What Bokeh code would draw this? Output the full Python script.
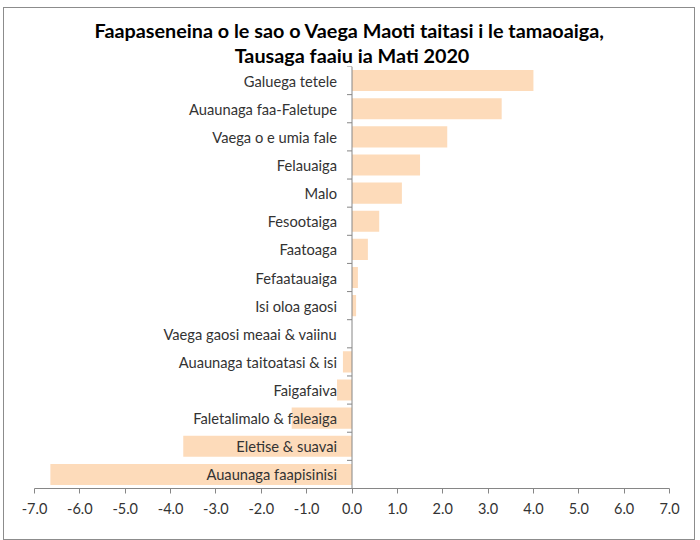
from bokeh.plotting import figure
from bokeh.models import ColumnDataSource, Range1d, Span, Title, FixedTicker, NumeralTickFormatter
from bokeh.embed import file_html
from bokeh.resources import INLINE
from bokeh.core.properties import value
import numpy as np

categories = [
    "Galuega tetele",
    "Auaunaga faa-Faletupe",
    "Vaega o e umia fale",
    "Felauaiga",
    "Malo",
    "Fesootaiga",
    "Faatoaga",
    "Fefaatauaiga",
    "Isi oloa gaosi",
    "Vaega gaosi meaai & vaiinu",
    "Auaunaga taitoatasi & isi",
    "Faigafaiva",
    "Faletalimalo & faleaiga",
    "Eletise & suavai",
    "Auaunaga faapisinisi",
]
values = [4.0, 3.3, 2.1, 1.5, 1.1, 0.6, 0.35, 0.13, 0.09, 0.0, -0.2, -0.33, -1.33, -3.72, -6.65]
x_ticks = [-7, -6, -5, -4, -3, -2, -1, 0, 1, 2, 3, 4, 5, 6, 7]
title_line1 = "Faapaseneina  o le sao o Vaega Maoti taitasi i le tamaoaiga,"
title_line2 = "Tausaga faaiu ia Mati 2020"

n = len(categories)
ypos = list(range(n - 1, -1, -1))
src = ColumnDataSource(dict(cat=categories, val=values, y=ypos))

FONT = "Lato"
BAR = "#FDDBBA"
AXIS = "#868686"
TXT = "#333333"

p = figure(width=692, height=533, output_backend="svg", toolbar_location=None,
           x_range=Range1d(x_ticks[0], x_ticks[-1]), y_range=Range1d(-0.5, n - 0.5),
           y_axis_location=None, min_border_left=30, min_border_right=27,
           min_border_top=58, min_border_bottom=53,
           styles={"border": "1px solid #8c8c8c", "margin-left": "3px", "margin-top": "7px"})
p.outline_line_color = None
p.xgrid.visible = False
p.ygrid.visible = False

p.hbar(y="y", right="val", left=0, height=0.75, source=src, fill_color=BAR, line_color=None)

# y axis line and category ticks at x = 0
p.add_layout(Span(location=0, dimension="height", line_color=AXIS, line_width=1))
bounds = np.arange(n + 1) - 0.5
p.segment(x0=[-0.11] * len(bounds), x1=[0] * len(bounds), y0=bounds, y1=bounds,
          line_color=AXIS, line_width=1)

p.text(x=0, y="y", text="cat", source=src, x_offset=-15, text_align="right",
       text_baseline="middle", text_font=value(FONT), text_font_size="14.7px", text_color=TXT)

ax = p.xaxis[0]
ax.ticker = FixedTicker(ticks=x_ticks)
ax.formatter = NumeralTickFormatter(format="0.0")
ax.axis_line_color = AXIS
ax.major_tick_line_color = AXIS
ax.major_tick_in = 0
ax.major_tick_out = 5
ax.minor_tick_line_color = None
ax.major_label_text_font = FONT
ax.major_label_text_font_size = "14.5px"
ax.major_label_text_color = TXT
ax.major_label_standoff = 9

p.add_layout(Title(text=title_line2, align="center", text_font=FONT, text_font_size="19.8px",
                   text_font_style="bold", text_color="#000000", standoff=0), "above")
p.add_layout(Title(text=title_line1, align="center", text_font=FONT, text_font_size="19.8px",
                   text_font_style="bold", text_color="#000000", standoff=-2), "above")

open("out.html", "w").write(file_html(p, INLINE))
